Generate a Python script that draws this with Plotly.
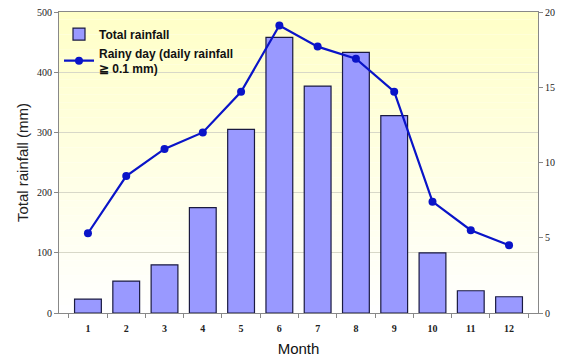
import plotly.graph_objects as go

months = ["1", "2", "3", "4", "5", "6", "7", "8", "9", "10", "11", "12"]
rainfall_mm = [23, 53, 80, 175, 305, 458, 377, 433, 328, 100, 37, 27]
rainy_days = [5.3, 9.1, 10.9, 12.0, 14.7, 19.1, 17.7, 16.9, 14.7, 7.4, 5.5, 4.5]

fig = go.Figure()

fig.add_trace(go.Bar(
    x=months, y=rainfall_mm, name="Total rainfall",
    marker=dict(color="#9999ff", line=dict(color="#1a1a40", width=1.2)),
    width=0.7,
))
fig.add_trace(go.Scatter(
    x=months, y=rainy_days, name="Rainy day (daily rainfall<br>≧ 0.1 mm)",
    yaxis="y2", mode="lines+markers",
    line=dict(color="#0a14c8", width=2.2),
    marker=dict(color="#0a14c8", size=8),
))

# vertical gradient background: pale yellow at the top fading to white
n = 40
shapes = []
for i in range(n):
    t = i / (n - 1)
    r, g, b = 255, 255, int(200 + 55 * t)
    shapes.append(dict(
        type="rect", xref="x domain", yref="y domain",
        x0=0, x1=1, y0=1 - (i + 1) / n, y1=1 - i / n,
        fillcolor=f"rgb({r},{g},{b})", line=dict(width=0), layer="below",
    ))

tick_font = dict(family="Liberation Serif, Times New Roman, serif", size=10, color="#222")

fig.update_layout(
    width=562, height=358,
    margin=dict(l=59, r=24, t=12, b=45),
    paper_bgcolor="white", plot_bgcolor="rgba(0,0,0,0)",
    shapes=shapes,
    bargap=0.3,
    showlegend=True,
    legend=dict(
        x=0.0, y=0.975, xanchor="left", yanchor="top",
        bgcolor="rgba(0,0,0,0)",
        font=dict(family="Liberation Sans, Arial, sans-serif", size=12, color="#111", weight="bold"),
        itemwidth=30,
        tracegroupgap=5,
    ),
    xaxis=dict(
        automargin=False,
        title=dict(text="Month", font=dict(family="Liberation Sans, Arial", size=15, color="#111"), standoff=10),
        tickfont=dict(family="Liberation Serif, Times New Roman, serif", size=10, color="#222", weight="bold"),
        ticklabelstandoff=6,
        showline=True, linecolor="#888", linewidth=1, mirror=True,
        ticks="outside", ticklen=4, tickcolor="#888", tickson="boundaries",
        showgrid=False,
    ),
    yaxis=dict(
        automargin=False,
        title=dict(text="Total rainfall (mm)", font=dict(family="Liberation Sans, Arial", size=15, color="#222"), standoff=4),
        range=[0, 500], tickvals=[0, 100, 200, 300, 400, 500],
        tickfont=tick_font,
        showline=True, linecolor="#888", linewidth=1, mirror=True,
        ticks="outside", ticklen=4, tickcolor="#888",
        showgrid=True, gridcolor="#d8d8c8", gridwidth=1, zeroline=False,
    ),
    yaxis2=dict(
        automargin=False,
        overlaying="y", side="right",
        range=[0, 20], tickvals=[0, 5, 10, 15, 20],
        tickfont=tick_font,
        showline=True, linecolor="#888", linewidth=1,
        ticks="outside", ticklen=4, tickcolor="#888",
        showgrid=False, zeroline=False,
    ),
)

fig.write_html("out.html")
